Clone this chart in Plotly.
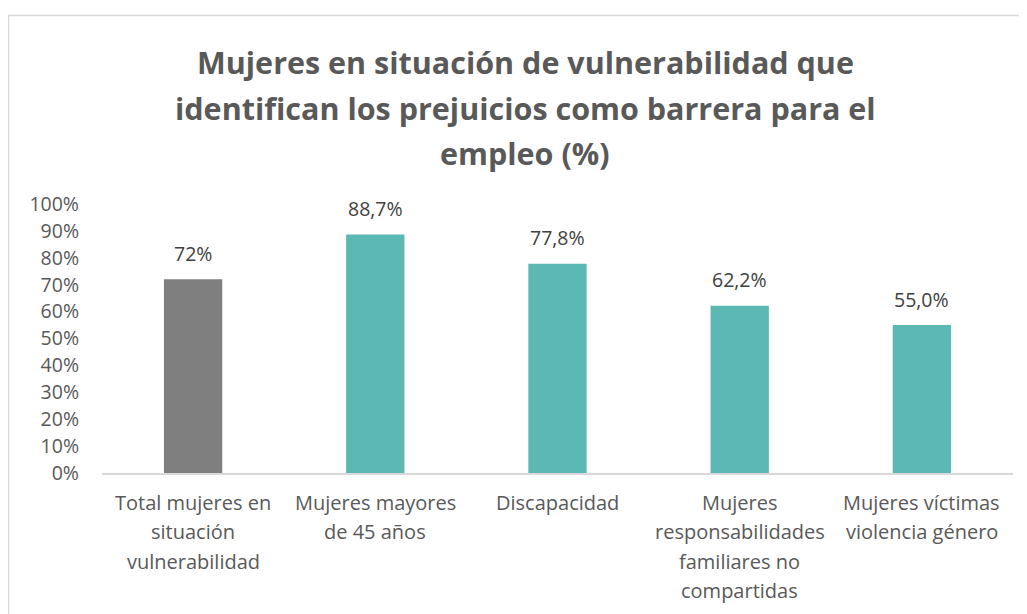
import plotly.graph_objects as go

title_lines = [
    "Mujeres en situación de vulnerabilidad que",
    "identifican los prejuicios como barrera para el",
    "empleo (%)",
]
categories = [
    "Total mujeres en<br>situación<br>vulnerabilidad",
    "Mujeres mayores<br>de 45 años",
    "Discapacidad",
    "Mujeres<br>responsabilidades<br>familiares no<br>compartidas",
    "Mujeres víctimas<br>violencia género",
]
values = [72.0, 88.7, 77.8, 62.2, 55.0]
value_labels = ["72%", "88,7%", "77,8%", "62,2%", "55,0%"]
y_ticks = [0, 10, 20, 30, 40, 50, 60, 70, 80, 90, 100]

# page has an 8px body margin; figure drawn at (8, 8)
OFF = 8
W, H = 1027 - OFF, 614 - OFF
L = 102 - OFF
PW = 911
R = W - L - PW
T = 204 - OFF
PH = 269
B = H - T - PH

FONT = "Open Sans"
GRAY_TXT = "#595959"
colors = ["#7f7f7f"] + ["#5bb8b2"] * (len(values) - 1)

fig = go.Figure()
fig.add_trace(go.Bar(
    x=list(range(len(categories))), y=values,
    marker=dict(color=colors, line=dict(width=0)),
    hoverinfo="skip",
))

annotations = []
for i, (v, t) in enumerate(zip(values, value_labels)):
    annotations.append(dict(x=i, y=v, xref="x", yref="y", text=t, showarrow=False,
                            yanchor="middle", yshift=26,
                            font=dict(family=FONT, size=19.5, color="#404040")))
for i, c in enumerate(categories):
    for j, line in enumerate(c.split("<br>")):
        annotations.append(dict(x=i, y=0, xref="x", yref="y", text=line, showarrow=False,
                                yanchor="middle", yshift=-(29 + j * 29.5),
                                font=dict(family=FONT, size=20, color=GRAY_TXT)))


def page_to_paper(px, py):
    fx, fy = px - OFF, py - OFF
    return (fx - L) / PW, (T + PH - fy) / PH


for j, line in enumerate(title_lines):
    x, y = page_to_paper(525, 62 + j * 45.5)
    annotations.append(dict(x=x, y=y, xref="paper", yref="paper",
                            text="<b>" + line + "</b>", showarrow=False,
                            xanchor="center", yanchor="middle",
                            font=dict(family=FONT, size=30.5, color=GRAY_TXT)))

fx0, fy1 = page_to_paper(8.5, 15.5)
fx1, fy0 = page_to_paper(1045, 650)

fig.update_layout(
    width=W, height=H,
    margin=dict(l=L, r=R, t=T, b=B, pad=0),
    paper_bgcolor="white", plot_bgcolor="white",
    showlegend=False,
    bargap=0.68,
    annotations=annotations,
    xaxis=dict(range=[-0.5, len(categories) - 0.5], showticklabels=False, ticks="",
               showgrid=False, zeroline=False, showline=True, linecolor="#d9d9d9", linewidth=1.5),
    yaxis=dict(range=[0, 100], tickmode="array", tickvals=y_ticks,
               ticktext=[f"{v}%" for v in y_ticks], showgrid=False,
               zeroline=False, showline=False, ticks="", ticklabelstandoff=22,
               tickfont=dict(family=FONT, size=19.5, color=GRAY_TXT)),
    shapes=[dict(type="rect", xref="paper", yref="paper",
                 x0=fx0, x1=fx1, y0=fy0, y1=fy1,
                 line=dict(color="#d9d9d9", width=1.5), fillcolor="rgba(0,0,0,0)", layer="below")],
)

fig.write_html("out.html")
